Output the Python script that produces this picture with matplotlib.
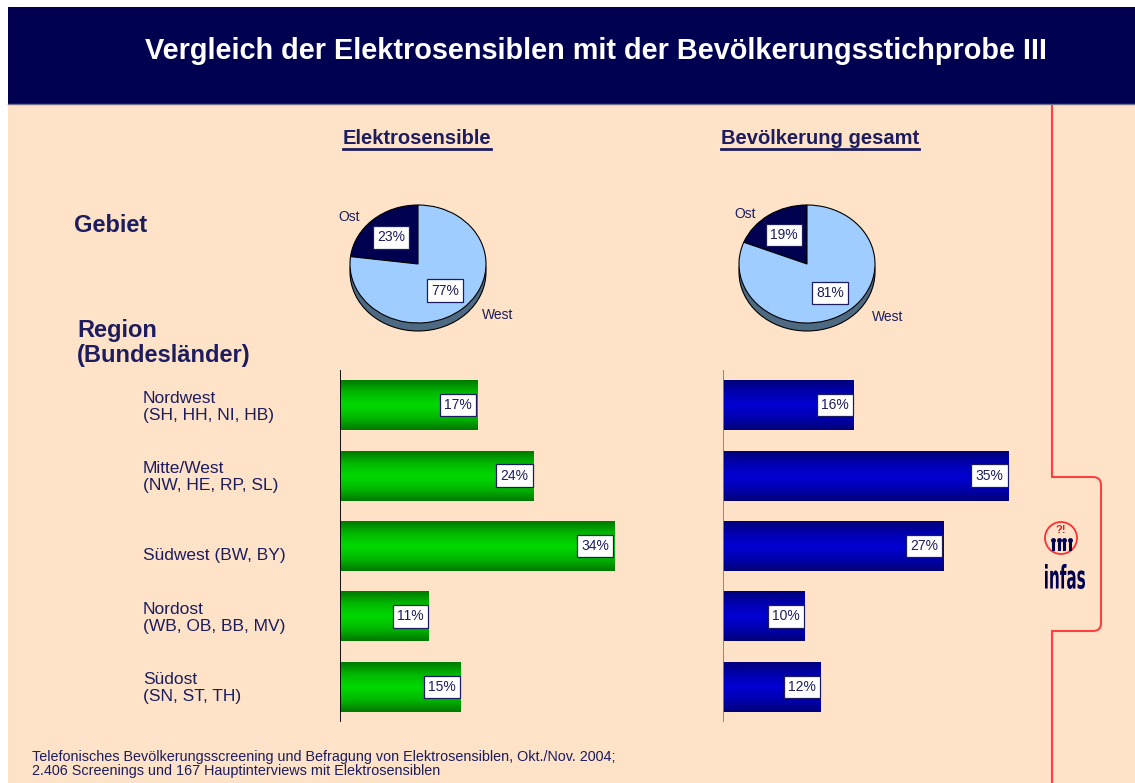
import numpy as np
import matplotlib.pyplot as plt
from matplotlib.patches import Rectangle, Ellipse, Circle, PathPatch
from matplotlib.path import Path
from matplotlib.colors import LinearSegmentedColormap
from matplotlib.textpath import TextPath
from matplotlib.font_manager import FontProperties
from matplotlib.transforms import Affine2D, blended_transform_factory

# data
title = 'Vergleich der Elektrosensiblen mit der Bevölkerungsstichprobe III'
regions = ['Nordwest\n(SH, HH, NI, HB)', 'Mitte/West\n(NW, HE, RP, SL)', 'Südwest (BW, BY)',
           'Nordost\n(WB, OB, BB, MV)', 'Südost\n(SN, ST, TH)']
elektro_region = [17, 24, 34, 11, 15]
bevoelk_region = [16, 35, 27, 10, 12]
gebiet_labels = ['Ost', 'West']
elektro_gebiet = [23, 77]
bevoelk_gebiet = [19, 81]
footer = ('Telefonisches Bevölkerungsscreening und Befragung von Elektrosensiblen, Okt./Nov. 2004;\n'
          '2.406 Screenings und 167 Hauptinterviews mit Elektrosensiblen')

W, H = 1135, 783
NAVY = '#1c1c5e'
BG = '#ffe3c8'
BAND = '#000050'

plt.rcParams['font.family'] = ['Liberation Sans', 'DejaVu Sans']

fig = plt.figure(figsize=(W / 100, H / 100), dpi=100)
fig.patch.set_facecolor('white')


def px_axes(x0, y0, x1, y1):
    # box in pixels, origin top left
    ax = fig.add_axes([x0 / W, 1 - y1 / H, (x1 - x0) / W, (y1 - y0) / H])
    ax.set_facecolor('none')
    return ax


# background layer in pixel coords
bg = px_axes(0, 0, W, H)
bg.set_xlim(0, W)
bg.set_ylim(H, 0)
bg.axis('off')
bg.add_patch(Rectangle((8, 104), W - 8, H - 104, fc=BG, ec='none'))
bg.add_patch(Rectangle((8, 7), W - 8, 97, fc=BAND, ec='none'))
bg.plot([8, W], [104, 104], color='#707090', lw=1)
bg.text(596, 51, title, color='white', fontsize=20.8, fontweight='bold', ha='center', va='center')

# red frame line on the right
verts = [(1052, 104), (1052, 477), (1093, 477), (1101, 477), (1101, 485), (1101, 623),
         (1101, 631), (1093, 631), (1052, 631), (1052, H)]
codes = [Path.MOVETO, Path.LINETO, Path.LINETO, Path.CURVE3, Path.CURVE3, Path.LINETO,
         Path.CURVE3, Path.CURVE3, Path.LINETO, Path.LINETO]
bg.add_patch(PathPatch(Path(verts, codes), fc='none', ec='#ff4040', lw=1.5))

# infas logo
bg.add_patch(Circle((1061, 538), 16, fill=False, ec='#ff3030', lw=1.3))
bg.text(1061, 530, '?!', color='#e02020', fontsize=8, fontweight='bold', ha='center', va='center')
for px in [1053, 1058.5, 1064, 1069.5]:
    bg.plot([px], [540], marker='o', ms=2.5, color=BAND)
    bg.plot([px, px], [541, 549], color=BAND, lw=2.2)
tp = TextPath((0, 0), 'infas', size=30, prop=FontProperties(family='DejaVu Sans', weight='bold'))
bb = tp.get_extents()
tr = (Affine2D().translate(-bb.x0 - bb.width / 2, -bb.y0)
      .scale(40 / bb.width, -25 / bb.height).translate(1065, 589))
bg.add_patch(PathPatch(tr.transform_path(tp), fc=BAND, ec='none'))

# headings
h1 = bg.text(417, 138, 'Elektrosensible', color=NAVY, fontsize=14.5, fontweight='bold', ha='center', va='center')
h2 = bg.text(820, 138, 'Bevölkerung gesamt', color=NAVY, fontsize=14.5, fontweight='bold', ha='center', va='center')
bg.text(74, 226, 'Gebiet', color=NAVY, fontsize=17, fontweight='bold', ha='left', va='center')
bg.text(77, 343, 'Region\n(Bundesländer)', color=NAVY, fontsize=17, fontweight='bold', ha='left', va='center',
        linespacing=1.1)
bg.text(32, 764, footer, color=NAVY, fontsize=10.4, ha='left', va='center', linespacing=0.95)


def draw_pie(cx, cy, vals, ost_xy, west_xy):
    rx, ry = 68, 59
    ax = px_axes(cx - 100, cy - 80, cx + 100, cy + 80)
    ax.add_patch(Ellipse((0, -8 / ry), 2, 2, fc='#4e6a82', ec='black', lw=0.8, zorder=0))
    wedges, texts, autotexts = ax.pie(
        vals, colors=[BAND, '#a0cdff'], startangle=90, counterclock=True,
        autopct=lambda p: f'{p:.0f}%', pctdistance=0.6,
        wedgeprops=dict(edgecolor='black', linewidth=0.8),
        textprops=dict(color=NAVY, fontsize=10))
    for t in autotexts:
        t.set_bbox(dict(boxstyle='square,pad=0.3', fc='white', ec=NAVY, lw=0.9))
    ax.set_aspect('auto')
    ax.set_xlim(-100 / rx, 100 / rx)
    ax.set_ylim(-80 / ry, 80 / ry)
    ax.text(ost_xy[0], ost_xy[1], gebiet_labels[0], color=NAVY, fontsize=10, ha='center', va='center')
    ax.text(west_xy[0], west_xy[1], gebiet_labels[1], color=NAVY, fontsize=10, ha='center', va='center')


draw_pie(418, 264, elektro_gebiet, (-1.01, 0.80), (1.17, -0.87))
draw_pie(807, 264, bevoelk_gebiet, (-0.91, 0.84), (1.18, -0.90))

green = LinearSegmentedColormap.from_list('g', ['#00d800', '#00b800', '#007a00'])
blue = LinearSegmentedColormap.from_list('b', ['#0000d2', '#0000b0', '#00007a'])


def draw_bars(x0, scale, vals, cmap, axis_color):
    ax = px_axes(x0, 370, x0 + 40 * scale, 722)
    y = np.arange(len(vals))
    bars = ax.barh(y, vals, height=0.71, color='none', edgecolor='none')
    grad = np.abs(np.linspace(-1, 1, 64))[:, None]
    for b in bars:
        bx, by, bw, bh = b.get_x(), b.get_y(), b.get_width(), b.get_height()
        im = ax.imshow(grad, cmap=cmap, extent=(bx, bx + bw, by + bh, by), aspect='auto',
                       interpolation='bilinear', zorder=2)
        im.set_clip_path(b)
    for i, v in enumerate(vals):
        ax.text(v - 0.6, i, f'{v}%', ha='right', va='center', fontsize=10, color=NAVY, zorder=4,
                bbox=dict(boxstyle='square,pad=0.3', fc='white', ec=NAVY, lw=0.9))
    ax.axvline(0, color=axis_color, lw=1.3, zorder=3)
    ax.set_xlim(0, 40)
    ax.set_ylim(4.5, -0.5)
    ax.axis('off')
    return ax


axL = draw_bars(340, 8.06, elektro_region, green, 'black')
axR = draw_bars(723, 8.15, bevoelk_region, blue, '#808080')

# region labels, aligned with the bars
trans = blended_transform_factory(bg.transData, axL.transData)
for i, lab in enumerate(regions):
    off = 0.13 if '\n' not in lab else 0.02
    axL.text(143, i + off, lab, transform=trans, color=NAVY, fontsize=12.5, ha='left', va='center',
             linespacing=1.15, clip_on=False)

# underline headings
fig.canvas.draw()
inv = bg.transData.inverted()
for h in (h1, h2):
    ext = h.get_window_extent()
    (xa, yb), (xb, _) = inv.transform([[ext.x0, ext.y0], [ext.x1, ext.y1]])
    bg.plot([xa, xb], [yb + 1, yb + 1], color=NAVY, lw=2)

fig.savefig('out.png', dpi=100)
